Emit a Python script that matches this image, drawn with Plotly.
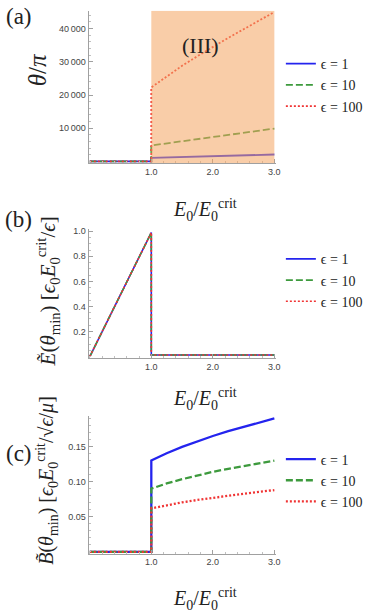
import plotly.graph_objects as go

# shared x positions (E0 / E0crit)
x_pre = [0, 1]
x_post = [1, 1.25, 1.5, 1.75, 2, 2.25, 2.5, 2.75, 3]

# (a) theta / pi after the jump
theta_eps1 = [1050, 1180, 1330, 1460, 1600, 1730, 1860, 1980, 2100]
theta_eps10 = [4800, 5450, 6100, 6750, 7400, 8000, 8650, 9250, 9900]
theta_eps100 = [22300, 25600, 28800, 31700, 34500, 37200, 39800, 42400, 45000]

# (b) E(theta_min), same for every epsilon
e_x = [0, 1, 1, 3]
e_vals = [0, 0.99, 0.012, 0.012]

# (c) B(theta_min) after the jump
b_eps1 = [0.130, 0.1405, 0.1495, 0.1575, 0.1650, 0.1718, 0.1780, 0.1842, 0.190]
b_eps10 = [0.090, 0.0975, 0.1035, 0.1090, 0.1140, 0.1183, 0.1225, 0.1265, 0.130]
b_eps100 = [0.062, 0.0665, 0.0705, 0.0740, 0.0772, 0.0800, 0.0828, 0.0855, 0.088]

labels = ["ϵ = 1", "ϵ = 10", "ϵ = 100"]
colors = ["#2424ee", "#3d9a3d", "#f03434"]
dashes = ["solid", "7px,3px", "2px,2px"]

theta_ticks = [10000, 20000, 30000, 40000]
theta_ticktext = ["10\u2009000", "20\u2009000", "30\u2009000", "40\u2009000"]

SERIF = "Liberation Serif"
SANS = "Liberation Sans"

fig = go.Figure()

# panel (a)
for i, vals in enumerate([theta_eps1, theta_eps10, theta_eps100]):
    fig.add_trace(go.Scatter(
        x=x_pre + x_post, y=[0, 0] + vals, mode="lines", name=labels[i],
        line=dict(color=colors[i], width=1.8, dash=dashes[i]),
        xaxis="x", yaxis="y", legend="legend",
    ))

# panel (b)
for i in range(3):
    fig.add_trace(go.Scatter(
        x=e_x, y=e_vals, mode="lines", name=labels[i],
        line=dict(color=colors[i], width=1.6, dash=dashes[i]),
        xaxis="x2", yaxis="y2", legend="legend2",
    ))

# panel (c)
for i, vals in enumerate([b_eps1, b_eps10, b_eps100]):
    fig.add_trace(go.Scatter(
        x=x_pre + x_post, y=[0, 0] + vals, mode="lines", name=labels[i],
        line=dict(color=colors[i], width=2.3, dash=dashes[i]),
        xaxis="x3", yaxis="y3", legend="legend3",
    ))

xdom = [0.2349, 0.7310]
ax_common = dict(
    showgrid=False, zeroline=False, showline=True, linecolor="#a0a0a0", linewidth=1,
    ticks="inside", ticklen=4, tickcolor="#a0a0a0",
    tickfont=dict(family=SANS, size=9, color="#444"),
)
xax = dict(ax_common, range=[-0.02, 3.02], domain=xdom, tickvals=[1, 2, 3],
           ticktext=["1.0", "2.0", "3.0"],
           minor=dict(ticks="inside", ticklen=2, dtick=0.2, tickcolor="#c0c0c0"))

fig.update_layout(
    width=382, height=616, margin=dict(l=0, r=0, t=0, b=0),
    plot_bgcolor="white", paper_bgcolor="white",
    xaxis=dict(xax, anchor="y"),
    xaxis2=dict(xax, anchor="y2"),
    xaxis3=dict(xax, anchor="y3"),
    yaxis=dict(ax_common, range=[-500, 45400], domain=[0.7376, 0.9859], anchor="x",
               tickvals=theta_ticks, ticktext=theta_ticktext,
               minor=dict(ticks="inside", ticklen=2, dtick=2000, tickcolor="#c0c0c0")),
    yaxis2=dict(ax_common, range=[-0.012, 1.02], domain=[0.4201, 0.6307], anchor="x2",
                tickvals=[0.2, 0.4, 0.6, 0.8, 1.0], ticktext=["0.2", "0.4", "0.6", "0.8", "1.0"],
                minor=dict(ticks="inside", ticklen=2, dtick=0.05, tickcolor="#c0c0c0")),
    yaxis3=dict(ax_common, range=[-0.0025, 0.193], domain=[0.1015, 0.3252], anchor="x3",
                tickvals=[0.05, 0.10, 0.15], ticktext=["0.05", "0.10", "0.15"],
                minor=dict(ticks="inside", ticklen=2, dtick=0.01, tickcolor="#c0c0c0")),
    showlegend=True,
)

leg = dict(xanchor="left", yanchor="top", bgcolor="rgba(0,0,0,0)",
           font=dict(family=SERIF, size=14, color="#222"), tracegroupgap=0,
           itemwidth=30)
fig.update_layout(
    legend=dict(leg, x=0.745, y=0.925),
    legend2=dict(leg, x=0.745, y=0.607),
    legend3=dict(leg, x=0.745, y=0.281),
)

# region (III)
fig.add_shape(type="rect", xref="x", yref="y", x0=1, x1=3, y0=-500, y1=45400,
              fillcolor="#f4a460", opacity=0.55, line=dict(width=0), layer="above")
fig.add_annotation(x=1.8, y=34800, xref="x", yref="y", text="(III)", showarrow=False,
                   xanchor="center", yanchor="middle",
                   font=dict(family=SERIF, size=22, color="#222"))


def paper_note(text, px, py, size, angle=0):
    fig.add_annotation(x=px / 382, y=1 - py / 616, xref="paper", yref="paper", text=text,
                       showarrow=False, xanchor="center", yanchor="middle", textangle=angle,
                       font=dict(family=SERIF, size=size, color="#222"))


# panel labels
for txt, yy in [("(a)", 15), ("(b)", 218), ("(c)", 453)]:
    paper_note(txt, 19, yy, 23)

# axis titles
xtitle = "<i>E</i><sub>0</sub>/<i>E</i><sub>0</sub><sup>crit</sup>"
for yy in [209, 398, 599]:
    paper_note(xtitle, 208, yy, 20)

paper_note("<i>θ</i>/<i>π</i>", 38, 68, 25, -90)
paper_note("<i>Ẽ</i>(<i>θ</i><sub>min</sub>) [<i>ϵ</i><sub>0</sub><i>E</i><sub>0</sub><sup>crit</sup>/<i>ϵ</i>]",
           48, 290, 21, -90)
paper_note("<i>B̃</i>(<i>θ</i><sub>min</sub>) [<i>ϵ</i><sub>0</sub><i>E</i><sub>0</sub><sup>crit</sup>/√<i>ϵ</i>/<i>μ</i>]",
           48, 480, 20, -90)

# drop the default page margin so the figure sits at the window corner
fig.write_html("out.html", config={"displayModeBar": False},
               post_script="document.body.style.margin='0';")
